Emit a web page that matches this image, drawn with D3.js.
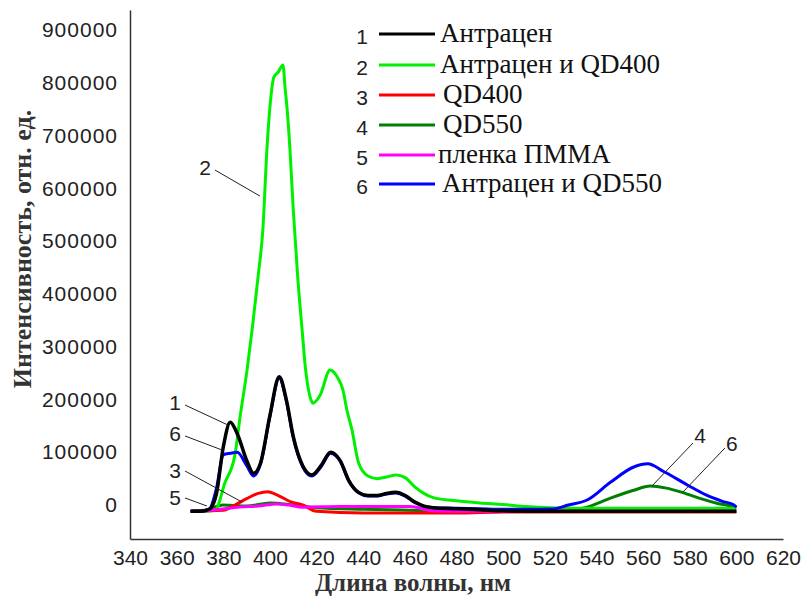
<!DOCTYPE html>
<html>
<head>
<meta charset="utf-8">
<script src="https://cdn.jsdelivr.net/npm/d3@7"></script>
<style>
  body { margin: 0; background: #fff; }
</style>
</head>
<body>
<div id="chart"></div>
<script>
// spectra: [wavelength nm, intensity]
const anthracene = [[366,-12000],[370,-12000],[374,-8000],[377,20000],[380,110000],[383,157000],[386,135000],[390,85000],[393,60000],[396,80000],[400,170000],[404,243000],[407,200000],[410,130000],[414,75000],[418,57000],[422,75000],[426,100000],[430,85000],[434,45000],[438,24000],[442,18000],[446,18000],[450,22000],[454,24000],[458,18000],[462,6000],[466,-2000],[470,-5000],[480,-7000],[490,-9000],[500,-11000],[520,-12000],[600,-12000]];
const anthrQD400 = [[366,-12000],[372,-12000],[376.5,-10000],[380.7,42000],[385,95000],[387.2,167000],[390.2,256000],[392.7,345000],[394.9,432000],[397,524000],[398.7,673000],[400,754000],[401.7,811000],[403.5,820000],[405.6,834000],[406.5,790000],[407.3,754000],[408.6,673000],[410,560000],[412,426000],[413.8,332000],[415,269000],[417.2,205000],[418.5,193000],[421.5,208000],[425.8,256000],[429.2,240000],[431.3,218000],[433,180000],[435.2,142000],[438,80000],[442,55000],[446,50000],[450,53000],[454,57000],[458,52000],[462,35000],[466,22000],[470,14000],[480,8000],[490,4000],[500,1000],[510,-3000],[520,-5000],[540,-6000],[600,-6000]];
const qd400 = [[366,-12000],[380,-10000],[385,0],[390,12000],[395,22000],[399,25000],[404,17000],[409,6000],[414,0],[420,-12000],[440,-15000],[480,-15000],[500,-13000],[600,-13000]];
const qd550 = [[366,-12000],[372,-10000],[380,0],[390,-2000],[400,4000],[410,0],[420,-5000],[440,-8000],[460,-10000],[480,-12000],[525,-12000],[536,-4000],[546,13000],[556,28000],[563,36000],[570,32000],[576,25000],[584,13000],[592,3000],[599,-4000],[600,-6000]];
const pmma = [[366,-12000],[372,-11000],[377,-9000],[387,-4000],[395,-2000],[403,2000],[408,0],[414,-4000],[430,-3000],[460,-3000],[470,-11000],[480,-12000],[600,-12000]];
const anthrQD550 = [[366,-12000],[370,-12000],[374,-8000],[377,30000],[380,95000],[383,98000],[386,100000],[390,75000],[393,55000],[396,78000],[400,168000],[404,240000],[407,198000],[410,128000],[414,73000],[418,55000],[422,73000],[426,98000],[430,84000],[434,44000],[438,23000],[442,17000],[446,17000],[450,21000],[454,23000],[458,17000],[462,5000],[466,-2000],[470,-5000],[480,-6000],[490,-7000],[500,-8000],[512,-8000],[521,-7600],[528,0],[536,9500],[546,43000],[556,72000],[562,78000],[569,63000],[579,38000],[587,19000],[594,7000],[599,0],[600,-4000]];

const seriesData = [anthracene, anthrQD400, qd400, qd550, pmma, anthrQD550];
const seriesNames = ["Антрацен", "Антрацен и QD400", "QD400", "QD550", "пленка ПММА", "Антрацен и QD550"];
const seriesNums = ["1", "2", "3", "4", "5", "6"];
const seriesColors = ["#000000", "#00f000", "#ff0000", "#008000", "#ff00ff", "#0000ff"];
const drawOrder = [3, 1, 2, 4, 5, 0];

const xTicks = d3.range(340, 621, 20);
const yTicks = d3.range(0, 900001, 100000);

// curve labels: [num, label nm, label value, line from nm, from value, to nm, to value]
const callouts = [
  ["2", 372.2, 640500, 376.4, 634800, 395.7, 585500],
  ["1", 359.3, 195000, 363.6, 189500, 382, 151600],
  ["6", 359.3, 136400, 363.6, 130800, 379.5, 104200],
  ["3", 359.3, 66300, 363.6, 64400, 388, 5700],
  ["5", 359.3, 15200, 363.6, 13300, 373, -1900],
  ["4", 584.4, 132600, 581.4, 117500, 563.8, 36000],
  ["6", 598.1, 117500, 595.1, 108000, 577.1, 24600]
];

const W = 802, H = 596;
const svg = d3.select('#chart').append('svg').attr('width', W).attr('height', H);

const x = d3.scaleLinear().domain([340, 620]).range([130, 783]);
const y = d3.scaleLinear().domain([-64400, 938000]).range([539, 10]);

// axes
const xAxis = svg.append('g')
    .attr('transform', 'translate(0,539)')
    .call(d3.axisBottom(x).tickValues(xTicks).tickSize(0).tickPadding(11).tickFormat(d3.format('d')));
xAxis.selectAll('text').attr('font-family', 'Liberation Sans, Arial, sans-serif').attr('font-size', 21).attr('fill', '#222');
xAxis.select('.domain').attr('stroke', '#333').attr('stroke-width', 1.5);

const yAxis = svg.append('g')
    .attr('transform', 'translate(130,0)')
    .call(d3.axisLeft(y).tickValues(yTicks).tickSize(0).tickPadding(12).tickFormat(d3.format('d')));
yAxis.selectAll('text').attr('font-family', 'Liberation Sans, Arial, sans-serif').attr('font-size', 21)
    .attr('letter-spacing', 1).attr('fill', '#222');
yAxis.select('.domain').attr('stroke', '#333').attr('stroke-width', 1.5);

// axis titles
svg.append('text')
    .attr('x', 413).attr('y', 591)
    .attr('text-anchor', 'middle')
    .attr('font-family', 'Liberation Serif, Times New Roman, serif')
    .attr('font-weight', 'bold').attr('font-size', 25).attr('fill', '#333')
    .text('Длина волны, нм');

svg.append('text')
    .attr('transform', 'translate(31,249) rotate(-90)')
    .attr('text-anchor', 'middle')
    .attr('font-family', 'Liberation Serif, Times New Roman, serif')
    .attr('font-weight', 'bold').attr('font-size', 26).attr('fill', '#333')
    .text('Интенсивность, отн. ед.');

// curves
const line = d3.line()
    .x(d => x(d[0]))
    .y(d => y(d[1]))
    .curve(d3.curveMonotoneX);

drawOrder.forEach(i => {
  svg.append('path')
      .datum(seriesData[i])
      .attr('fill', 'none')
      .attr('stroke', seriesColors[i])
      .attr('stroke-width', i === 0 ? 3.5 : 3)
      .attr('stroke-linejoin', 'round')
      .attr('d', line);
});

// callouts
callouts.forEach(c => {
  svg.append('line')
      .attr('x1', x(c[3])).attr('y1', y(c[4]))
      .attr('x2', x(c[5])).attr('y2', y(c[6]))
      .attr('stroke', '#222').attr('stroke-width', 1);
  svg.append('text')
      .attr('x', x(c[1])).attr('y', y(c[2]))
      .attr('dy', '0.36em')
      .attr('text-anchor', 'middle')
      .attr('font-family', 'Liberation Sans, Arial, sans-serif')
      .attr('font-size', 21).attr('fill', '#222')
      .text(c[0]);
});

// legend
const legend = svg.append('g');
const rowY = [34, 65, 95, 125, 155, 184];
const labelX = [440, 440, 443, 443, 438, 442];
seriesNames.forEach((name, i) => {
  legend.append('text')
      .attr('x', 362).attr('y', rowY[i] + 2).attr('dy', '0.36em')
      .attr('text-anchor', 'middle')
      .attr('font-family', 'Liberation Sans, Arial, sans-serif')
      .attr('font-size', 21).attr('fill', '#222')
      .text(seriesNums[i]);
  legend.append('line')
      .attr('x1', 379).attr('x2', 435)
      .attr('y1', rowY[i]).attr('y2', rowY[i])
      .attr('stroke', seriesColors[i]).attr('stroke-width', 3);
  legend.append('text')
      .attr('x', labelX[i]).attr('y', rowY[i] + 8)
      .attr('font-family', 'Liberation Serif, Times New Roman, serif')
      .attr('font-size', 27).attr('fill', '#111')
      .text(name);
});
</script>
</body>
</html>
